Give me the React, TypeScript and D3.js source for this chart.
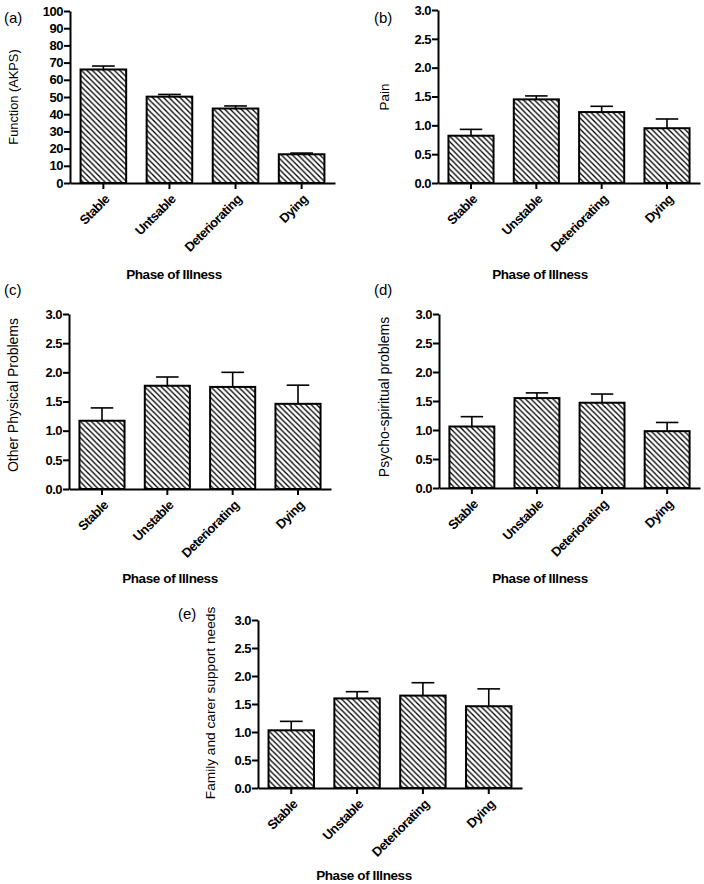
import React, { useEffect, useRef } from 'react'
import * as d3 from 'd3'

// categories (panel (a) has the typo as in the original figure)
const phasesA = ['Stable', 'Untsable', 'Deteriorating', 'Dying']
const phases = ['Stable', 'Unstable', 'Deteriorating', 'Dying']

// means and upper error (SEM)
const functionMeans = [66, 50.2, 43.3, 16.7]
const functionErr = [2.0, 1.3, 1.5, 0.7]
const painMeans = [0.82, 1.45, 1.23, 0.95]
const painErr = [0.11, 0.06, 0.1, 0.16]
const otherMeans = [1.17, 1.77, 1.75, 1.46]
const otherErr = [0.22, 0.15, 0.25, 0.32]
const psychoMeans = [1.06, 1.55, 1.47, 0.98]
const psychoErr = [0.17, 0.09, 0.15, 0.15]
const familyMeans = [1.03, 1.6, 1.65, 1.46]
const familyErr = [0.16, 0.12, 0.23, 0.31]

const functionTicks = d3.range(0, 101, 10)
const scoreTicks = [0, 0.5, 1, 1.5, 2, 2.5, 3]

const FONT = '"Liberation Sans", Arial, Helvetica, sans-serif'

const panels = [
  {
    tag: '(a)', tagX: 4, tagY: 23,
    yLabel: 'Function (AKPS)', yLabelX: 13, yLabelY: 97, yLabelSize: 12.8,
    cats: phasesA, means: functionMeans, errs: functionErr,
    yMax: 100, ticks: functionTicks, fmt: d3.format('d'),
    x0: 70, x1: 335, yTop: 11, yBottom: 183,
    titleX: 174, titleY: 279,
  },
  {
    tag: '(b)', tagX: 374, tagY: 23,
    yLabel: 'Pain', yLabelX: 384, yLabelY: 97, yLabelSize: 13.5,
    cats: phases, means: painMeans, errs: painErr,
    yMax: 3, ticks: scoreTicks, fmt: d3.format('.1f'),
    x0: 438, x1: 700, yTop: 10, yBottom: 183,
    titleX: 540, titleY: 279,
  },
  {
    tag: '(c)', tagX: 4, tagY: 295,
    yLabel: 'Other Physical Problems', yLabelX: 13, yLabelY: 395, yLabelSize: 14,
    cats: phases, means: otherMeans, errs: otherErr,
    yMax: 3, ticks: scoreTicks, fmt: d3.format('.1f'),
    x0: 69, x1: 331, yTop: 314, yBottom: 489,
    titleX: 170, titleY: 583,
  },
  {
    tag: '(d)', tagX: 374, tagY: 295,
    yLabel: 'Psycho-spiritual problems', yLabelX: 384, yLabelY: 397, yLabelSize: 14,
    cats: phases, means: psychoMeans, errs: psychoErr,
    yMax: 3, ticks: scoreTicks, fmt: d3.format('.1f'),
    x0: 439, x1: 700, yTop: 314, yBottom: 488,
    titleX: 540, titleY: 583,
  },
  {
    tag: '(e)', tagX: 178, tagY: 619,
    yLabel: 'Family and carer support needs', yLabelX: 210, yLabelY: 703, yLabelSize: 13.7,
    cats: phases, means: familyMeans, errs: familyErr,
    yMax: 3, ticks: scoreTicks, fmt: d3.format('.1f'),
    x0: 258, x1: 522, yTop: 620, yBottom: 788,
    titleX: 364, titleY: 880,
  },
]

export default function App() {
  const svgRef = useRef(null)

  useEffect(() => {
    const svg = d3.select(svgRef.current)
    svg.selectAll('*').remove()

    // diagonal hatch fill
    const pattern = svg
      .append('defs')
      .append('pattern')
      .attr('id', 'hatch')
      .attr('patternUnits', 'userSpaceOnUse')
      .attr('width', 5.5)
      .attr('height', 5.5)
    pattern.append('rect').attr('width', 5.5).attr('height', 5.5).attr('fill', '#fff')
    pattern
      .append('path')
      .attr('d', 'M0,0 L5.5,5.5 M-1,4.5 L1,6.5 M4.5,-1 L6.5,1')
      .attr('stroke', '#000')
      .attr('stroke-width', 1.3)

    panels.forEach((p) => {
      const g = svg.append('g').attr('font-family', FONT)

      const x = d3.scaleBand().domain(p.cats).range([p.x0, p.x1]).paddingInner(0.31).paddingOuter(0.16)
      const y = d3.scaleLinear().domain([0, p.yMax]).range([p.yBottom, p.yTop])

      // error bars (upper only)
      p.cats.forEach((c, i) => {
        const cx = x(c) + x.bandwidth() / 2
        const top = y(p.means[i] + p.errs[i])
        g.append('line')
          .attr('x1', cx).attr('x2', cx)
          .attr('y1', y(p.means[i])).attr('y2', top)
          .attr('stroke', '#000').attr('stroke-width', 1.6)
        g.append('line')
          .attr('x1', cx - x.bandwidth() / 4).attr('x2', cx + x.bandwidth() / 4)
          .attr('y1', top).attr('y2', top)
          .attr('stroke', '#000').attr('stroke-width', 1.6)
      })

      // bars
      g.selectAll('.bar')
        .data(p.cats)
        .enter()
        .append('rect')
        .attr('x', (c) => x(c))
        .attr('y', (c, i) => y(p.means[i]))
        .attr('width', x.bandwidth())
        .attr('height', (c, i) => y(0) - y(p.means[i]))
        .attr('fill', 'url(#hatch)')
        .attr('stroke', '#000')
        .attr('stroke-width', 2)

      // y axis
      const yAxis = g
        .append('g')
        .attr('transform', `translate(${p.x0},0)`)
        .call(d3.axisLeft(y).tickValues(p.ticks).tickFormat(p.fmt).tickSize(6).tickSizeOuter(0).tickPadding(1))
      yAxis.selectAll('path, line').attr('stroke', '#000').attr('stroke-width', 2)
      yAxis.selectAll('text')
        .attr('font-family', FONT).attr('font-size', 13).attr('font-weight', 'bold')
        .attr('letter-spacing', -0.5).attr('fill', '#000')

      // x axis
      const xAxis = g
        .append('g')
        .attr('transform', `translate(0,${p.yBottom})`)
        .call(d3.axisBottom(x).tickSize(6).tickSizeOuter(0))
      xAxis.selectAll('path, line').attr('stroke', '#000').attr('stroke-width', 2)
      xAxis.selectAll('text')
        .attr('font-family', FONT).attr('font-size', 13).attr('font-weight', 'bold')
        .attr('letter-spacing', -0.5).attr('fill', '#000')
        .attr('text-anchor', 'end')
        .attr('dy', null)
        .attr('y', 0)
        .attr('transform', 'translate(7,17) rotate(-45)')

      // panel tag
      g.append('text')
        .attr('x', p.tagX).attr('y', p.tagY)
        .attr('font-size', 15).attr('fill', '#000')
        .text(p.tag)

      // y label
      g.append('text')
        .attr('transform', `translate(${p.yLabelX},${p.yLabelY}) rotate(-90)`)
        .attr('text-anchor', 'middle')
        .attr('dominant-baseline', 'central')
        .attr('font-size', p.yLabelSize).attr('fill', '#000')
        .text(p.yLabel)

      // x title
      g.append('text')
        .attr('x', p.titleX).attr('y', p.titleY)
        .attr('text-anchor', 'middle')
        .attr('font-size', 13.5).attr('font-weight', 'bold')
        .attr('letter-spacing', -0.4).attr('fill', '#000')
        .text('Phase of Illness')
    })
  }, [])

  return (
    <svg
      ref={svgRef}
      width="704"
      height="884"
      style={{ position: 'absolute', left: 0, top: 0, background: '#fff' }}
    ></svg>
  )
}
